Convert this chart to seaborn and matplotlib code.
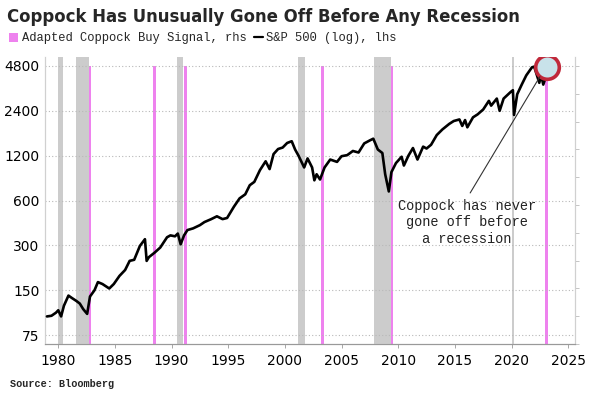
import matplotlib
matplotlib.use("Agg")
import matplotlib.pyplot as plt
import seaborn as sns
import pandas as pd
from matplotlib.patches import Patch
from matplotlib.lines import Line2D

# ---- data ----
spx_year = [1979.0, 1979.4, 1979.8, 1980.0, 1980.25, 1980.5, 1980.9, 1981.2, 1981.6, 1981.9,
            1982.2, 1982.55, 1982.8, 1983.2, 1983.5, 1983.9, 1984.5, 1984.9, 1985.4, 1985.9,
            1986.3, 1986.7, 1987.2, 1987.65, 1987.8, 1988.0, 1988.5, 1989.0, 1989.6, 1989.9,
            1990.3, 1990.55, 1990.8, 1991.1, 1991.4, 1991.9, 1992.5, 1992.9, 1993.5, 1994.0,
            1994.5, 1994.9, 1995.5, 1996.0, 1996.5, 1996.9, 1997.3, 1997.8, 1998.3, 1998.65,
            1999.0, 1999.4, 1999.8, 2000.2, 2000.6, 2000.9, 2001.2, 2001.7, 2002.0, 2002.4,
            2002.6, 2002.8, 2003.1, 2003.5, 2004.0, 2004.6, 2005.0, 2005.5, 2006.0, 2006.5,
            2007.0, 2007.5, 2007.8, 2008.2, 2008.6, 2008.85, 2009.17, 2009.4, 2009.8, 2010.3,
            2010.5, 2010.9, 2011.3, 2011.7, 2012.2, 2012.5, 2012.9, 2013.4, 2013.9, 2014.5,
            2014.9, 2015.4, 2015.65, 2015.9, 2016.1, 2016.6, 2017.0, 2017.5, 2018.0, 2018.2,
            2018.7, 2018.95, 2019.3, 2019.9, 2020.12, 2020.22, 2020.5, 2020.9, 2021.3, 2021.8,
            2022.0, 2022.45, 2022.6, 2022.8, 2022.95, 2023.1]
spx_value = [100, 101, 106, 110, 100, 118, 138, 133, 127, 122,
             112, 104, 136, 150, 170, 165, 154, 165, 187, 205,
             236, 240, 297, 330, 236, 250, 268, 290, 340, 350,
             345, 360, 305, 350, 380, 390, 410, 430, 450, 470,
             450, 458, 545, 620, 660, 760, 800, 960, 1100, 975,
             1230, 1330, 1360, 1460, 1500, 1320, 1200, 1000, 1150, 1000,
             820, 900, 830, 1000, 1130, 1090, 1190, 1210, 1290, 1260,
             1450, 1520, 1560, 1320, 1250, 900, 690, 930, 1070, 1180,
             1030, 1200, 1350, 1130, 1380, 1340, 1420, 1650, 1800, 1960,
             2050, 2100, 1900, 2080, 1860, 2170, 2270, 2450, 2800, 2600,
             2900, 2400, 2900, 3200, 3300, 2250, 3100, 3600, 4150, 4700,
             4750, 3700, 4200, 3600, 3900, 4000]

signal_year = [1982.75, 1988.5, 1991.2, 2003.3, 2009.42, 2023.1]
signal_value = [1, 1, 1, 1, 1, 1]

recession_start = [1980.0, 1981.55, 1990.5, 2001.2, 2007.9, 2020.08]
recession_end = [1980.45, 1982.72, 1991.05, 2001.75, 2009.33, 2020.25]

y_ticks = [75, 150, 300, 600, 1200, 2400, 4800]
x_ticks = [1980, 1985, 1990, 1995, 2000, 2005, 2010, 2015, 2020, 2025]

highlight_year = [2023.1]
highlight_value = [4750]

title = "Coppock Has Unusually Gone Off Before Any Recession"
note = "Coppock has never\ngone off before\na recession"
source = "Source: Bloomberg"

# ---- plotting ----
sns.set_theme(style="white")
plt.rcParams["font.family"] = ["DejaVu Sans"]

fig = plt.figure(figsize=(5.96, 3.98), dpi=100)
ax = fig.add_axes([45/596, 1-344/398, (575-45)/596, (344-57)/398])

for s, e in zip(recession_start, recession_end):
    ax.axvspan(s, e, color="#cccccc", lw=0, zorder=0)

ax.set_yscale("log", base=2)
ax.set_ylim(65.3, 5514)
ax.set_xlim(1978.83, 2025.6)

ax2 = ax.twinx()
ax2.bar(signal_year, signal_value, width=0.28, color="#ee82ee", lw=0, zorder=1)
ax2.set_ylim(0, 1.0324)
ax2.set_yticks([i / 10 for i in range(0, 11)])
ax2.set_yticklabels([])
ax2.tick_params(axis="y", which="both", length=3, width=0.6, color="#bbbbbb", direction="out", right=True)
ax2.set_xlim(1978.83, 2025.6)

# put price line above bars
ax.set_zorder(ax2.get_zorder() + 1)
ax.patch.set_visible(False)

df = pd.DataFrame({"year": spx_year, "value": spx_value})
sns.lineplot(data=df, x="year", y="value", ax=ax, color="black", lw=1.9, zorder=3)

ax.plot(highlight_year, highlight_value, "o", ms=17, mfc="#c8e2ea", mec="#c0283a", mew=2.6, zorder=5)

ax.annotate(note, xy=(2022.5, 4070), xytext=(2016.05, 428), ha="center", va="center",
            fontsize=9.8, family="Liberation Mono", color="#222222", linespacing=1.25,
            arrowprops=dict(arrowstyle="-", color="#333333", lw=0.8, shrinkA=2, shrinkB=0,
                            relpos=(0.5, 1.0)), zorder=6)

ax.set_yticks(y_ticks)
ax.set_yticklabels([str(v) for v in y_ticks])
ax.yaxis.set_minor_locator(matplotlib.ticker.NullLocator())
ax.set_xticks(x_ticks)
ax.set_xticklabels([str(v) for v in x_ticks])
ax.set_xlabel("")
ax.set_ylabel("")
ax.tick_params(axis="y", length=0, labelsize=10, pad=4, colors="black")
ax.tick_params(axis="x", length=3, width=0.6, color="#999999", labelsize=10, pad=4.5, labelcolor="black", bottom=True)
ax.grid(axis="y", ls=(0, (1, 2)), color="#b8b8b8", lw=0.8)
ax.grid(axis="x", visible=False)

for a in (ax, ax2):
    a.spines["top"].set_visible(False)
    a.spines["left"].set_color("#d0d0d0")
    a.spines["right"].set_color("#d0d0d0")
    a.spines["bottom"].set_color("#999999")
    for sp in a.spines.values():
        sp.set_linewidth(0.8)

fig.text(7/596, 1-17/398, title, fontsize=11.9, fontweight="bold", va="center", ha="left")

handles = [Patch(facecolor="#ee82ee", edgecolor="none"), Line2D([], [], color="black", lw=1.6)]
labels = ["Adapted Coppock Buy Signal, rhs", "S&P 500 (log), lhs"]
fig.legend(handles, labels, loc="center left", bbox_to_anchor=(9/596, 1-38.5/398), ncol=2,
           frameon=False, handlelength=0.75, handleheight=0.75, handletextpad=0.3,
           columnspacing=0.6, borderpad=0, borderaxespad=0,
           prop={"family": "Liberation Mono", "size": 8.7})

fig.text(10/596, 1-384/398, source, fontsize=7.3, fontweight="bold", family="Liberation Mono",
         va="center", ha="left")

fig.savefig("out.png", dpi=100)
